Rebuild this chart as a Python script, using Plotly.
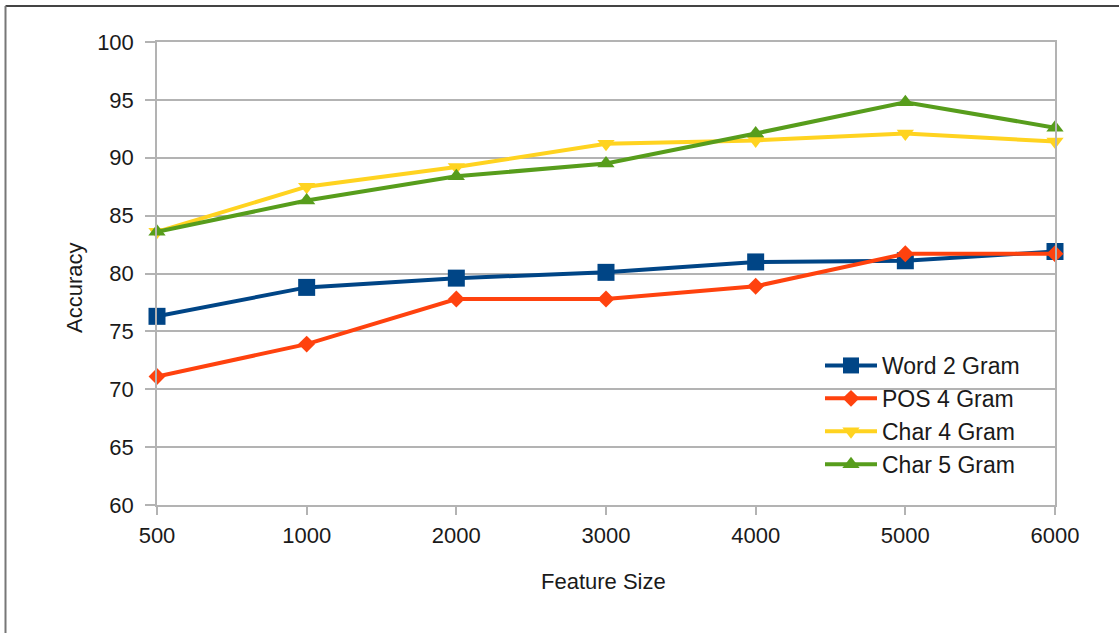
import plotly.graph_objects as go

# Feature sizes (categorical x axis)
feature_sizes = ["500", "1000", "2000", "3000", "4000", "5000", "6000"]

# Accuracy per model
word_2_gram = [76.3, 78.8, 79.6, 80.1, 81.0, 81.1, 81.9]
pos_4_gram = [71.1, 73.9, 77.8, 77.8, 78.9, 81.7, 81.7]
char_4_gram = [83.6, 87.5, 89.2, 91.2, 91.5, 92.1, 91.4]
char_5_gram = [83.6, 86.3, 88.4, 89.5, 92.1, 94.8, 92.6]

series = [
    ("Word 2 Gram", word_2_gram, "#004586", "square", 17),
    ("POS 4 Gram", pos_4_gram, "#ff420e", "diamond", 13),
    ("Char 4 Gram", char_4_gram, "#ffd320", "triangle-down", 15),
    ("Char 5 Gram", char_5_gram, "#579d1c", "triangle-up", 15),
]

fig = go.Figure()
for name, vals, color, symbol, size in series:
    fig.add_trace(go.Scatter(
        x=feature_sizes, y=vals, name=name, mode="lines+markers",
        line=dict(color=color, width=4),
        marker=dict(symbol=symbol, size=size, color=color),
        cliponaxis=False,
    ))

W, H = 1119, 633
ml, mr, mt, mb = 157, 64, 42, 128
pw, ph = W - ml - mr, H - mt - mb

def px_x(x):
    return (x - ml) / pw

def px_y(y):
    return (H - mb - y) / ph

font = "Liberation Sans, Arial, sans-serif"
txt = "#1a1a1a"
grid = "#b3b3b3"

fig.update_layout(
    width=W, height=H,
    margin=dict(l=ml, r=mr, t=mt, b=mb),
    paper_bgcolor="white", plot_bgcolor="white",
    font=dict(family=font, size=22, color=txt),
    showlegend=True,
    legend=dict(
        x=px_x(820), y=px_y(344), xanchor="left", yanchor="top",
        bgcolor="rgba(0,0,0,0)", font=dict(size=23, color=txt),
        itemwidth=52, tracegroupgap=0,
    ),
    xaxis=dict(
        type="category", range=[0, 6],
        showgrid=False,
        ticks="outside", ticklen=8, tickcolor=grid, tickwidth=1.5,
        ticklabelstandoff=2,
        showline=True, linecolor=grid, linewidth=1.5, mirror=True,
        zeroline=False,
        tickfont=dict(size=22),
    ),
    yaxis=dict(
        range=[60, 100], dtick=5,
        showgrid=True, gridcolor=grid, gridwidth=1.5,
        ticks="outside", ticklen=10, tickcolor=grid, tickwidth=1.5,
        ticklabelstandoff=7,
        showline=True, linecolor=grid, linewidth=1.5, mirror=True,
        zeroline=False,
        tickfont=dict(size=22),
    ),
    annotations=[
        dict(text="Feature Size", xref="paper", yref="paper",
             x=px_x(603), y=px_y(581), xanchor="center", yanchor="middle",
             showarrow=False, font=dict(size=22, color=txt)),
        dict(text="Accuracy", xref="paper", yref="paper",
             x=px_x(74), y=px_y(288), xanchor="center", yanchor="middle",
             textangle=-90, showarrow=False, font=dict(size=22, color=txt)),
    ],
    shapes=[
        dict(type="line", xref="paper", yref="paper",
             x0=px_x(5.5), x1=px_x(W + 5), y0=px_y(6), y1=px_y(6),
             line=dict(color="#444444", width=2)),
        dict(type="line", xref="paper", yref="paper",
             x0=px_x(5.5), x1=px_x(5.5), y0=px_y(6), y1=px_y(H + 5),
             line=dict(color="#777777", width=2)),
    ],
)

fig.write_html("out.html")
